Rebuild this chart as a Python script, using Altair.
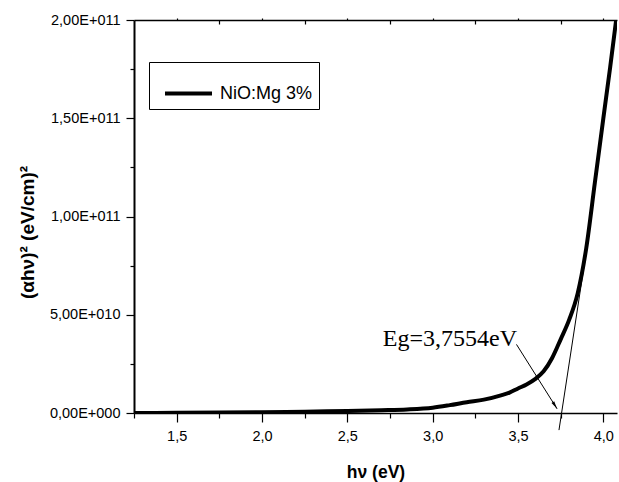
import altair as alt
import pandas as pd

# ---- data ----
hv = [1.25, 1.5, 1.75, 2.0, 2.25, 2.5, 2.7, 2.85, 3.0, 3.1, 3.2, 3.3, 3.4, 3.45,
      3.5, 3.55, 3.6, 3.65, 3.7, 3.75, 3.8, 3.85, 3.9, 3.95, 4.0, 4.04, 4.075]
alpha_hv2 = [0.0, 0.01e10, 0.02e10, 0.04e10, 0.07e10, 0.1e10, 0.14e10, 0.18e10,
             0.27e10, 0.4e10, 0.55e10, 0.68e10, 0.9e10, 1.04e10, 1.25e10, 1.45e10,
             1.72e10, 2.12e10, 2.8e10, 3.75e10, 4.75e10, 6.1e10, 8.4e10, 11.7e10,
             15.0e10, 17.6e10, 20.0e10]
series_name = "NiO:Mg 3%"

major_x = [1.5, 2.0, 2.5, 3.0, 3.5, 4.0]
minor_x = [1.25, 1.75, 2.25, 2.75, 3.25, 3.75]
major_y = [0, 5e10, 1e11, 1.5e11, 2e11]
minor_y = [2.5e10, 7.5e10, 1.25e11, 1.75e11]

tangent_hv = [3.740, 3.896]
tangent_val = [-0.87e10, 8.0e10]
arrow_hv = [3.491, 3.729]
arrow_val = [3.49e10, 0.21e10]
label_text = ["Eg=3,7554eV"]
label_hv = [2.708]
label_val = [3.41e10]

curve = pd.DataFrame({"hv": hv, "val": alpha_hv2, "series": [series_name] * len(hv)})
tangent = pd.DataFrame({"x": [tangent_hv[0]], "y": [tangent_val[0]],
                        "x2": [tangent_hv[1]], "y2": [tangent_val[1]]})
arrow = pd.DataFrame({"x": [arrow_hv[0]], "y": [arrow_val[0]],
                      "x2": [arrow_hv[1]], "y2": [arrow_val[1]]})
tip = pd.DataFrame({"x": [arrow_hv[1]], "y": [arrow_val[1]]})
label = pd.DataFrame({"x": label_hv, "y": label_val, "t": label_text})

W, H = 483, 393
xscale = alt.Scale(domain=[1.25, 4.08], nice=False, zero=False)
yscale = alt.Scale(domain=[0, 2e11], nice=False)

FONT = "Liberation Sans"
x_label_expr = "replace(format(datum.value, '.1f'), '.', ',')"
y_label_expr = ("datum.value == 0 ? '0,00E+000' : "
                "replace(format(datum.value / pow(10, floor(log(datum.value) / LN10 + 1e-9)), '.2f'), '.', ',')"
                " + 'E+0' + floor(log(datum.value) / LN10 + 1e-9)")

x_main = alt.Axis(orient="bottom", values=major_x, tickSize=9, tickWidth=1.2,
                  labelExpr=x_label_expr, labelFontSize=14.5, labelFont=FONT,
                  labelColor="black", labelPadding=7, domainWidth=1.5,
                  domainColor="black", tickColor="black",
                  title="hν (eV)", titleFontSize=17.5, titleFont=FONT,
                  titleFontWeight="bold", titleColor="black", titlePadding=21)
x_minor = alt.Axis(orient="bottom", values=minor_x, tickSize=5, tickWidth=1.2,
                   labels=False, domain=False, tickColor="black", title="")
x_top_in = alt.Axis(orient="bottom", offset=-H, values=minor_x[1:], tickSize=4,
                    tickWidth=1.2, labels=False, domain=False, tickColor="black", title="")
x_top = alt.Axis(orient="top", values=major_x, tickSize=2, tickWidth=1.2,
                 labels=False, domainWidth=1.5, domainColor="black",
                 tickColor="black", title="")

y_main = alt.Axis(orient="left", values=major_y, tickSize=8, tickWidth=1.2,
                  labelExpr=y_label_expr, labelFontSize=14.5, labelFont=FONT,
                  labelColor="black", labelPadding=6, domainWidth=2,
                  domainColor="black", tickColor="black",
                  title="(αhν)² (eV/cm)²", titleFontSize=19, titleFont=FONT,
                  titleFontWeight="bold", titleColor="black", titlePadding=12,
                  titleY=212)
y_minor = alt.Axis(orient="left", values=minor_y, tickSize=4, tickWidth=1.2,
                   labels=False, domain=False, tickColor="black", title="")

main = alt.Chart(curve).mark_line(strokeWidth=4, clip=True, interpolate="monotone").encode(
    x=alt.X("hv:Q", scale=xscale, axis=x_main),
    y=alt.Y("val:Q", scale=yscale, axis=y_main),
    color=alt.Color("series:N", scale=alt.Scale(range=["black"]),
                    legend=alt.Legend(title=None, symbolType="stroke",
                                      symbolStrokeWidth=4, symbolSize=2209)),
)

ghost = alt.Chart(curve).mark_point(opacity=0)
minor_layer = ghost.encode(
    x=alt.X("hv:Q", scale=xscale, axis=x_minor),
    y=alt.Y("val:Q", scale=yscale, axis=y_minor),
)
top_layer = ghost.encode(
    x=alt.X("hv:Q", scale=xscale, axis=x_top),
    y=alt.Y("val:Q", scale=yscale, axis=None),
)
top_in_layer = ghost.encode(
    x=alt.X("hv:Q", scale=xscale, axis=x_top_in),
    y=alt.Y("val:Q", scale=yscale, axis=None),
)

tangent_layer = alt.Chart(tangent).mark_rule(color="black", strokeWidth=1).encode(
    x=alt.X("x:Q", scale=xscale, axis=None), y=alt.Y("y:Q", scale=yscale, axis=None),
    x2="x2:Q", y2="y2:Q",
)
arrow_layer = alt.Chart(arrow).mark_rule(color="black", strokeWidth=1).encode(
    x=alt.X("x:Q", scale=xscale, axis=None), y=alt.Y("y:Q", scale=yscale, axis=None),
    x2="x2:Q", y2="y2:Q",
)
tip_layer = alt.Chart(tip).mark_point(
    shape="M0,0L-0.4,2L0.4,2Z", filled=True, size=64, angle=148,
    color="black", opacity=1, strokeWidth=0,
).encode(
    x=alt.X("x:Q", scale=xscale, axis=None), y=alt.Y("y:Q", scale=yscale, axis=None),
)
text_layer = alt.Chart(label).mark_text(
    font="Liberation Serif", fontSize=24, align="left", baseline="alphabetic",
    color="black",
).encode(
    x=alt.X("x:Q", scale=xscale, axis=None), y=alt.Y("y:Q", scale=yscale, axis=None),
    text="t:N",
)

chart = alt.layer(
    minor_layer, top_layer, top_in_layer, tangent_layer, main,
    arrow_layer, tip_layer, text_layer,
).resolve_axis(
    x="independent", y="independent",
).properties(
    width=W, height=H,
    autosize=alt.AutoSizeParams(type="none"),
    padding={"left": 134, "top": 20, "right": 2, "bottom": 69},
    background="white",
).configure_view(
    stroke=None,
).configure_axis(
    grid=False,
).configure_legend(
    orient="none", legendX=15, legendY=42, strokeColor="black", fillColor="white",
    padding=6, symbolOffset=8, labelOffset=6, labelFontSize=18, labelFont=FONT,
    labelColor="black",
)

chart.save("out.html", embed_options={"renderer": "svg", "actions": False})
